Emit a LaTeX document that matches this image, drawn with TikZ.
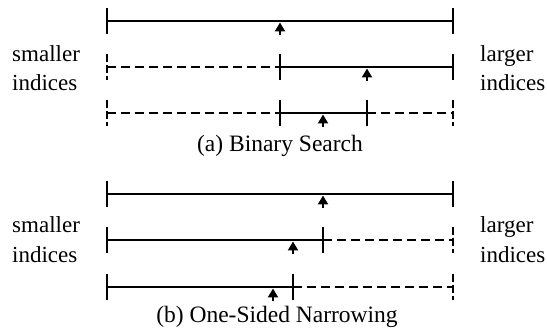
\documentclass[tikz,border=0pt]{standalone}
\usepackage{fontspec}
\setmainfont{Liberation Serif}
\usetikzlibrary{arrows.meta}
\begin{document}
\begin{tikzpicture}[x=1pt,y=-1pt,
  seg/.style={line width=2.5pt},
  dseg/.style={line width=2.5pt,dash pattern=on 9pt off 5pt},
  tickS/.style={line width=2.5pt},
  tickD/.style={line width=2.5pt,dash pattern=on 8pt off 3pt},
  ptr/.style={line width=2.5pt,-{Triangle[length=9pt,width=10pt]}},
  lbl/.style={anchor=base west,inner sep=0pt,font=\fontsize{23}{29}\selectfont,align=left},
  captext/.style={anchor=base,inner sep=0pt,font=\fontsize{23.5}{29}\selectfont}]
\useasboundingbox (0,0) rectangle (547,334);
% ---------- (a) ----------
\coordinate (a1L) at (107,21); \coordinate (a1R) at (453,21); \coordinate (a1P) at (280,21);
\coordinate (a2L) at (107,67); \coordinate (a2M) at (280,67); \coordinate (a2R) at (453,67); \coordinate (a2P) at (367,67);
\coordinate (a3L) at (107,113); \coordinate (a3M) at (280,113); \coordinate (a3N) at (367,113); \coordinate (a3R) at (453,113); \coordinate (a3P) at (323,113);
\draw[seg] (a1L) -- (a1R);
\draw[tickS] (a1L) ++(0,-13) -- ++(0,26);
\draw[tickS] (a1R) ++(0,-13) -- ++(0,26);
\draw[ptr] (a1P) ++(0,14) -- ++(0,-12.5);
\draw[dseg] (a2L) -- (a2M);
\draw[seg] (a2M) -- (a2R);
\draw[tickD] (a2L) ++(0,-13) -- ++(0,26);
\draw[tickS] (a2M) ++(0,-13) -- ++(0,26);
\draw[tickS] (a2R) ++(0,-13) -- ++(0,26);
\draw[ptr] (a2P) ++(0,14) -- ++(0,-12.5);
\draw[dseg] (a3L) -- (a3M);
\draw[seg] (a3M) -- (a3N);
\draw[dseg] (a3N) -- (a3R);
\draw[tickD] (a3L) ++(0,-13) -- ++(0,26);
\draw[tickS] (a3M) ++(0,-13) -- ++(0,26);
\draw[tickS] (a3N) ++(0,-13) -- ++(0,26);
\draw[tickD] (a3R) ++(0,-13) -- ++(0,26);
\draw[ptr] (a3P) ++(0,14) -- ++(0,-12.5);
\node[lbl] (aSm) at (12,91) {smaller\\indices};
\node[lbl] (aLg) at (480,91) {larger\\indices};
\node[captext] (aCap) at (280,152) {(a) Binary Search};
% ---------- (b) ----------
\coordinate (b1L) at (107,194); \coordinate (b1R) at (453,194); \coordinate (b1P) at (323,194);
\coordinate (b2L) at (107,240); \coordinate (b2M) at (323,240); \coordinate (b2R) at (453,240); \coordinate (b2P) at (293,240);
\coordinate (b3L) at (107,287); \coordinate (b3M) at (293,287); \coordinate (b3R) at (453,287); \coordinate (b3P) at (273,287);
\draw[seg] (b1L) -- (b1R);
\draw[tickS] (b1L) ++(0,-13) -- ++(0,26);
\draw[tickS] (b1R) ++(0,-13) -- ++(0,26);
\draw[ptr] (b1P) ++(0,14) -- ++(0,-12.5);
\draw[seg] (b2L) -- (b2M);
\draw[dseg] (b2M) -- (b2R);
\draw[tickS] (b2L) ++(0,-13) -- ++(0,26);
\draw[tickS] (b2M) ++(0,-13) -- ++(0,26);
\draw[tickD] (b2R) ++(0,-13) -- ++(0,26);
\draw[ptr] (b2P) ++(0,14) -- ++(0,-12.5);
\draw[seg] (b3L) -- (b3M);
\draw[dseg] (b3M) -- (b3R);
\draw[tickS] (b3L) ++(0,-13) -- ++(0,26);
\draw[tickS] (b3M) ++(0,-13) -- ++(0,26);
\draw[tickD] (b3R) ++(0,-13) -- ++(0,26);
\draw[ptr] (b3P) ++(0,14) -- ++(0,-12.5);
\node[lbl] (bSm) at (12,262) {smaller\\indices};
\node[lbl] (bLg) at (480,262) {larger\\indices};
\node[captext] (bCap) at (277,323) {(b) One-Sided Narrowing};
\end{tikzpicture}
\end{document}
